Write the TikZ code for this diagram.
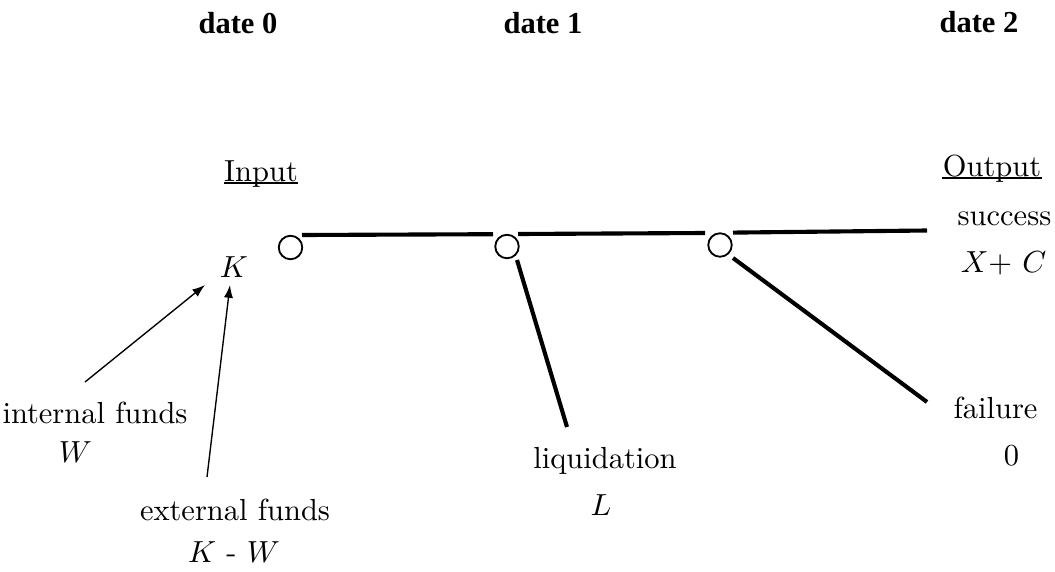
\documentclass[tikz,border=0pt]{standalone}
\usepackage{fontspec}
\newfontfamily\datefont{Liberation Serif}
\usetikzlibrary{arrows.meta}
\begin{document}
\begin{tikzpicture}[x=0.328pt,y=-0.328pt,
  lbl/.style={inner sep=0pt,anchor=base,font=\fontsize{10}{12}\selectfont},
  datelbl/.style={inner sep=0pt,anchor=base,font=\datefont\bfseries\fontsize{10}{12}\selectfont},
  stage/.style={circle,draw,line width=0.6pt,minimum size=7.7pt,inner sep=0pt},
  branch/.style={line width=1.35pt},
  fund/.style={line width=0.45pt,-{Latex[length=4.2pt,width=3pt]}}]
\useasboundingbox (0,0) rectangle (1055,571);
% dates
\node[datelbl] (d0) at (238,33) {date 0};
\node[datelbl] (d1) at (543,33) {date 1};
\node[datelbl] (d2) at (979,32) {date 2};
% input / output
\node[lbl] (inp) at (261,181) {Input};
\draw[line width=0.45pt] ([yshift=-0.7pt]inp.base west) -- ([yshift=-0.7pt]inp.base east);
\node[lbl] (out) at (992,176) {Output};
\draw[line width=0.45pt] ([yshift=-0.7pt]out.base west) -- ([yshift=-0.7pt]out.base east);
% circles
\node[stage] (c1) at (290.5,247.5) {};
\node[stage] (c2) at (507,246.5) {};
\node[stage] (c3) at (720,245) {};
% horizontal branches
\coordinate (h1s) at (302,235);
\coordinate (h1e) at (493,234.2);
\coordinate (h2s) at (518,234);
\coordinate (h2e) at (705,233);
\coordinate (h3s) at (733,232.6);
\coordinate (h3e) at (927,230.5);
\draw[branch] (h1s) -- (h1e);
\draw[branch] (h2s) -- (h2e);
\draw[branch] (h3s) -- (h3e);
% downward branches
\coordinate (ls) at (517,260);
\coordinate (le) at (567,427);
\coordinate (fs) at (733,258);
\coordinate (fe) at (927,402);
\draw[branch] (ls) -- (le);
\draw[branch] (fs) -- (fe);
% labels
\node[lbl] (succ) at (1004.5,225) {success};
\node[lbl] (xc) at (1003.5,272) {$X$+ $C$};
\node[lbl] (k) at (234,277) {$K$};
\node[lbl] (intf) at (95,423) {internal funds};
\node[lbl] (w) at (75.5,462) {$W$};
\node[lbl] (extf) at (235,520) {external funds};
\node[lbl] (kw) at (234,562) {$K$ - $W$};
\node[lbl] (liq) at (605,468) {liquidation};
\node[lbl] (l) at (601,515) {$L$};
\node[lbl] (fail) at (995.5,418) {failure};
\node[lbl] (zero) at (1011.5,465) {0};
% arrows
\coordinate (ia) at (85,382);
\coordinate (it) at (205,285);
\coordinate (ea) at (207,477);
\coordinate (et) at (230,285);
\draw[fund] (ia) -- (it);
\draw[fund] (ea) -- (et);
\end{tikzpicture}
\end{document}
